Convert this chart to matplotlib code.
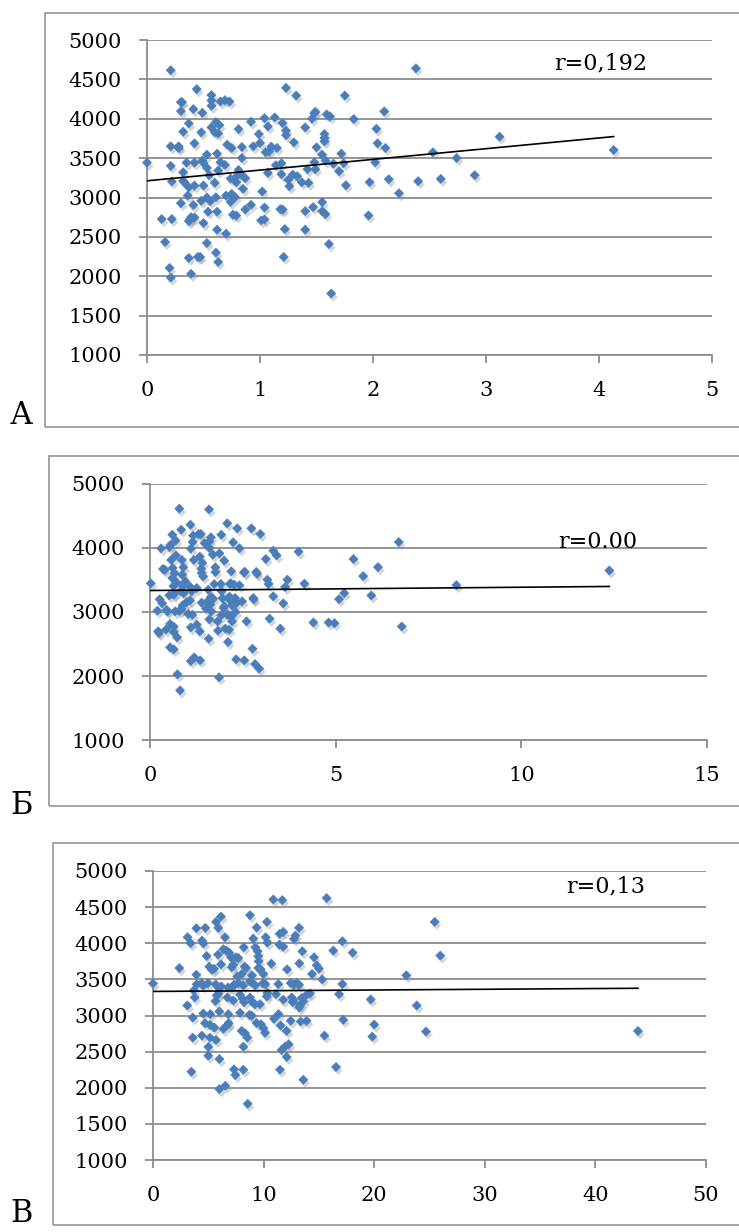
import matplotlib
matplotlib.use("Agg")
import matplotlib.pyplot as plt
import matplotlib.patheffects as pe
from matplotlib.patches import Rectangle
import numpy as np

# panel A
xa = [0.00, 0.21, 0.13, 0.22, 0.16, 0.20, 0.21, 0.21, 0.22, 0.21, 0.28, 0.28, 0.30, 0.31, 0.30,
      0.32, 0.30, 0.32, 0.32, 0.33, 0.36, 0.37, 0.37, 0.35, 0.37, 0.39, 0.38, 0.37, 0.39, 0.41,
      0.42, 0.42, 0.42, 0.41, 0.42, 0.44, 0.45, 0.47, 0.48, 0.49, 0.49, 0.50, 0.48, 0.50, 0.50,
      0.53, 0.53, 0.53, 0.54, 0.53, 0.55, 0.56, 0.57, 0.57, 0.57, 0.57, 0.60, 0.63, 0.61, 0.62,
      0.60, 0.61, 0.62, 0.62, 0.61, 0.63, 0.64, 0.65, 0.63, 0.65, 0.69, 0.73, 0.69, 0.70, 0.70,
      0.71, 0.74, 0.74, 0.75, 0.75, 0.76, 0.78, 0.79, 0.79, 0.80, 0.81, 0.81, 0.83, 0.84, 0.84,
      0.85, 0.87, 0.87, 0.92, 0.92, 0.94, 0.99, 1.00, 1.02, 1.01, 1.04, 1.04, 1.04, 1.05, 1.07,
      1.07, 1.08, 1.10, 1.13, 1.15, 1.14, 1.18, 1.19, 1.19, 1.20, 1.20, 1.22, 1.21, 1.23, 1.23,
      1.23, 1.25, 1.26, 1.29, 1.33, 1.30, 1.32, 1.37, 1.40, 1.40, 1.40, 1.42, 1.43, 1.46, 1.48,
      1.49, 1.48, 1.47, 1.49, 1.50, 1.55, 1.55, 1.55, 1.58, 1.57, 1.57, 1.57, 1.58, 1.59, 1.62,
      1.61, 1.63, 1.65, 1.70, 1.72, 1.75, 1.76, 1.74, 1.83, 1.96, 1.97, 2.02, 2.03, 2.04, 2.10,
      2.11, 2.14, 2.23, 2.38, 2.40, 2.53, 2.60, 2.74, 2.90, 3.12, 4.13]
ya = [3443, 4616, 2726, 2726, 2435, 2105, 1983, 3401, 3203, 3650, 3650, 3629, 4211, 4211, 4097,
      3835, 2928, 3321, 3211, 3194, 3025, 3131, 3941, 3443, 2700, 2750, 2720, 2232, 2030, 4122,
      3688, 3443, 3152, 2903, 2747, 4376, 2245, 2245, 3827, 4076, 3468, 3439, 2958, 3152, 2675,
      3376, 3544, 3000, 2819, 2422, 3283, 2954, 3890, 4300, 4232, 4165, 3827, 3814, 3958, 3557,
      3186, 3004, 2819, 2591, 2300, 2181, 3920, 3447, 3342, 4219, 4236, 4219, 3414, 3025, 2540,
      3671, 3241, 2945, 3046, 3629, 2781, 3004, 2772, 3194, 3278, 3869, 3350, 3300, 3641, 3502,
      3110, 3245, 2848, 3962, 2907, 3650, 3806, 3692, 3076, 2709, 2722, 2873, 4008, 3574, 3903,
      3312, 3586, 3646, 4017, 3629, 3409, 2852, 3435, 3295, 3945, 2848, 2599, 2245, 4392, 3848,
      3793, 3224, 3143, 3291, 3270, 3700, 4295, 3194, 3890, 2827, 2591, 3359, 3186, 4000, 4068,
      4089, 3447, 2878, 3359, 3637, 3544, 2941, 2827, 2789, 3806, 3755, 3713, 3468, 4055, 4030,
      2409, 1781, 3430, 3333, 3557, 4295, 3156, 3435, 3996, 2772, 3194, 3447, 3873, 3688, 4093,
      3629, 3232, 3055, 4641, 3207, 3574, 3236, 3502, 3283, 3772, 3603]

# panel Б
xb = [0.02, 0.79, 1.59, 0.84, 0.60, 0.69, 1.09, 1.31, 1.37, 1.16, 1.15, 1.10, 0.55, 0.52, 0.30,
      0.70, 0.57, 0.86, 1.18, 1.34, 1.47, 1.60, 1.64, 1.60, 1.69, 1.87, 1.92, 2.08, 2.35, 2.73,
      2.97, 2.24, 2.41, 2.00, 1.76, 1.76, 0.35, 0.40, 0.61, 0.66, 0.90, 0.87, 0.60, 0.72, 0.63,
      0.95, 0.89, 0.83, 0.91, 0.63, 1.08, 1.12, 1.26, 1.38, 1.43, 1.39, 1.41, 1.57, 1.64, 1.73,
      1.91, 1.93, 2.19, 2.18, 2.15, 2.27, 2.41, 2.53, 2.55, 2.86, 2.88, 3.16, 3.19, 3.41, 3.32,
      3.12, 3.70, 3.64, 4.00, 4.16, 3.32, 3.59, 2.78, 2.79, 2.48, 2.33, 2.29, 2.15, 2.14, 2.21,
      1.95, 2.00, 1.70, 1.57, 1.39, 1.62, 1.08, 0.99, 0.88, 0.85, 0.65, 0.52, 0.26, 0.33, 0.20,
      0.47, 0.45, 0.68, 0.79, 1.03, 1.14, 1.51, 1.65, 1.98, 1.92, 2.08, 2.19, 2.30, 1.60, 1.82,
      2.21, 2.60, 3.22, 3.51, 0.54, 0.64, 0.43, 0.64, 0.22, 0.24, 0.73, 1.10, 1.26, 1.34, 1.83,
      2.03, 2.13, 1.58, 2.10, 0.54, 0.64, 1.19, 1.10, 1.35, 2.32, 2.54, 2.76, 2.83, 2.94, 0.74,
      1.86, 0.81, 4.40, 4.81, 4.97, 5.09, 5.23, 5.48, 5.74, 5.96, 6.14, 6.70, 6.78, 8.25, 12.37]
yb = [3448, 4615, 4604, 4286, 4208, 4115, 4365, 4219, 4219, 4193, 4094, 3990, 4047, 4016, 3995,
      3885, 3813, 3813, 3813, 3865, 4073, 4104, 4167, 4000, 3896, 3917, 4208, 4385, 4307, 4307,
      4219, 4089, 3995, 3802, 3698, 3625, 3672, 3661, 3688, 3604, 3698, 3583, 3531, 3458, 3406,
      3479, 3401, 3323, 3297, 3276, 3396, 3323, 3375, 3677, 3557, 3609, 3766, 3349, 3234, 3437,
      3437, 3323, 3635, 3448, 3437, 3427, 3417, 3615, 3630, 3625, 3599, 3505, 3437, 3885, 3958,
      3828, 3505, 3391, 3943, 3443, 3245, 3135, 3219, 3198, 3167, 3141, 3219, 3188, 3240, 3104,
      3214, 3089, 3208, 3177, 3146, 3115, 3182, 3156, 3104, 3047, 3281, 3260, 3198, 3135, 3021,
      3010, 3031, 3010, 3021, 2969, 2958, 3052, 3010, 3063, 2948, 2958, 2927, 3000, 2885, 2854,
      2854, 2854, 2896, 2740, 2813, 2771, 2724, 2688, 2698, 2672, 2604, 2760, 2802, 2698, 2708,
      2740, 2724, 2583, 2531, 2448, 2417, 2292, 2234, 2245, 2260, 2245, 2427, 2187, 2115, 2026,
      1979, 1776, 2836, 2836, 2825, 3201, 3295, 3827, 3561, 3258, 3701, 4093, 2773, 3420, 3649]

# panel В
xc = [0.00, 10.88, 11.69, 15.70, 6.15, 8.77, 5.70, 5.90, 3.92, 4.73, 3.13, 3.40, 4.43, 4.55, 6.51,
      9.37, 10.30, 10.19, 10.34, 11.45, 11.78, 11.42, 11.78, 12.75, 12.87, 13.20, 9.07, 8.20, 6.36,
      6.66, 6.90, 7.05, 7.50, 7.72, 5.88, 4.85, 6.15, 5.09, 5.33, 5.52, 2.38, 3.92, 7.11, 7.26,
      7.63, 8.41, 8.29, 8.02, 9.25, 9.46, 9.52, 9.55, 9.52, 9.73, 9.98, 8.95, 8.83, 10.70, 12.12,
      13.23, 13.50, 14.56, 14.80, 15.00, 14.38, 15.30, 3.95, 4.40, 4.55, 4.97, 5.67, 5.94, 6.18,
      6.78, 7.14, 7.32, 7.72, 8.17, 8.77, 9.25, 9.92, 10.16, 11.33, 12.45, 12.75, 13.20, 12.99,
      3.77, 3.10, 3.68, 5.76, 5.90, 5.64, 6.72, 7.26, 7.87, 8.11, 8.23, 8.77, 8.92, 9.22, 9.67,
      10.28, 10.34, 11.12, 11.78, 12.54, 12.69, 12.63, 13.44, 13.59, 13.29, 13.23, 13.89, 14.20,
      6.00, 4.55, 5.18, 3.59, 6.81, 7.87, 8.71, 8.92, 10.94, 11.36, 4.70, 5.15, 5.55, 6.36, 6.75,
      6.84, 9.37, 9.76, 9.98, 10.13, 11.54, 12.09, 12.45, 13.35, 13.89, 8.02, 8.32, 8.53, 4.43,
      3.59, 5.15, 5.70, 5.00, 8.17, 11.63, 11.94, 12.27, 12.09, 5.00, 6.00, 3.47, 7.32, 7.44, 8.17,
      11.48, 13.59, 6.00, 6.54, 8.56, 15.50, 25.47, 17.12, 16.30, 18.05, 25.98, 17.12, 22.90,
      16.82, 19.68, 23.84, 17.20, 20.00, 19.83, 24.68, 16.55, 43.85]
yc = [3444, 4606, 4597, 4625, 4370, 4389, 4296, 4213, 4208, 4213, 4083, 4000, 4037, 4000, 4083,
      4218, 4296, 4083, 4009, 4130, 4157, 3981, 3954, 4060, 4106, 4213, 4065, 3944, 3917,
      3898, 3866, 3806, 3806, 3796, 3843, 3824, 3708, 3676, 3634, 3648, 3657, 3565, 3667, 3704,
      3542, 3657, 3676, 3574, 3944, 3889, 3819, 3750, 3657, 3639, 3574, 3556, 3472, 3718, 3639,
      3722, 3889, 3806, 3694, 3648, 3574, 3500, 3431, 3444, 3417, 3449, 3431, 3380, 3403,
      3389, 3389, 3426, 3449, 3417, 3472, 3417, 3444, 3435, 3435, 3449, 3426, 3426, 3449,
      3250, 3139, 3347, 3278, 3296, 3199, 3250, 3208, 3287, 3231, 3185, 3250, 3194, 3157, 3157,
      3264, 3310, 3296, 3218, 3250, 3213, 3185, 3241, 3194, 3148, 3111, 3287, 3306,
      3056, 3028, 3019, 2972, 3019, 3037, 3009, 3000, 2954, 3019, 2894, 2870, 2833, 2815, 2870,
      2894, 2894, 2880, 2824, 2759, 2861, 2787, 2926, 2917, 2926, 2787, 2755, 2694, 2722,
      2694, 2694, 2662, 2565, 2569, 2523, 2569, 2602, 2426, 2444, 2398, 2222, 2255, 2176, 2250,
      2250, 2111, 1981, 2028, 1778, 2722, 4296, 4028, 3898, 3870, 3829, 3435, 3556,
      3296, 3222, 3139, 2940, 2875, 2708, 2778, 2287, 2785]

# trend lines (intercept, slope) and r labels
trend_a = (3212, 136.0)
trend_b = (3336, 5.1)
trend_c = (3333, 1.0)
r_labels = ["r=0,192", "r=0.00", "r=0,13"]
panel_names = ["А", "Б", "В"]

blue = "#4a7ebb"
grid = "#8c8c8c"
W, H = 739, 1232

plt.rcParams["font.family"] = "DejaVu Serif"
fig = plt.figure(figsize=(W / 100, H / 100), dpi=100)


def px_axes(left, right, top, bottom):
    return fig.add_axes([left / W, 1 - bottom / H, (right - left) / W, (bottom - top) / H])


def frame(left, top, bottom):
    fig.add_artist(Rectangle((left / W, 1 - bottom / H), 1.2, (bottom - top) / H,
                             transform=fig.transFigure, fill=False, ec=grid, lw=1.1,
                             clip_on=False))


def panel(ax, x, y, trend, xmax, xstep, ymin, ystep, rtxt, rpos):
    ax.set_xlim(0, xmax)
    ax.set_ylim(ymin, 5000)
    ax.set_xticks(np.arange(0, xmax + 0.1, xstep))
    ax.set_yticks(np.arange(ymin, 5001, ystep))
    ax.grid(axis="y", color=grid, lw=1.3)
    ax.set_axisbelow(True)
    for s in ["top", "right"]:
        ax.spines[s].set_visible(False)
    for s in ["left", "bottom"]:
        ax.spines[s].set_color(grid)
        ax.spines[s].set_linewidth(1.3)
    ax.tick_params(axis="both", color=grid, width=1.3, length=6, labelsize=15)
    ax.tick_params(axis="x", pad=13)
    ax.tick_params(axis="y", pad=12)
    sc = ax.scatter(x, y, marker="D", s=22, c=blue, edgecolors=blue, linewidths=0.4,
                    zorder=3, clip_on=False)
    sc.set_path_effects([pe.SimplePatchShadow(offset=(1.5, -2.5), shadow_rgbFace="0.55",
                                              alpha=0.35), pe.Normal()])
    xs = np.array([0, max(x)])
    ax.plot(xs, trend[0] + trend[1] * xs, color="black", lw=1.2, zorder=4)
    ax.text(rpos[0], rpos[1], rtxt, fontsize=16, va="center", ha="left")


frame(45, 13, 427)
frame(49, 456, 806)
frame(53, 843, 1225)

ax1 = px_axes(147, 712, 40, 355)
panel(ax1, xa, ya, trend_a, 5, 1, 1000, 500, r_labels[0], (3.6, 4700))
ax2 = px_axes(150, 707, 484, 740)
panel(ax2, xb, yb, trend_b, 15, 5, 1000, 1000, r_labels[1], (11.0, 4095))
ax3 = px_axes(153, 706, 871, 1160)
panel(ax3, xc, yc, trend_c, 50, 10, 1000, 500, r_labels[2], (37.4, 4790))

for name, yb_px in zip(panel_names, [424, 814, 1222]):
    fig.text(10 / W, 1 - yb_px / H, name, fontsize=22, va="baseline", ha="left")

fig.savefig("out.png", dpi=100, facecolor="white")
